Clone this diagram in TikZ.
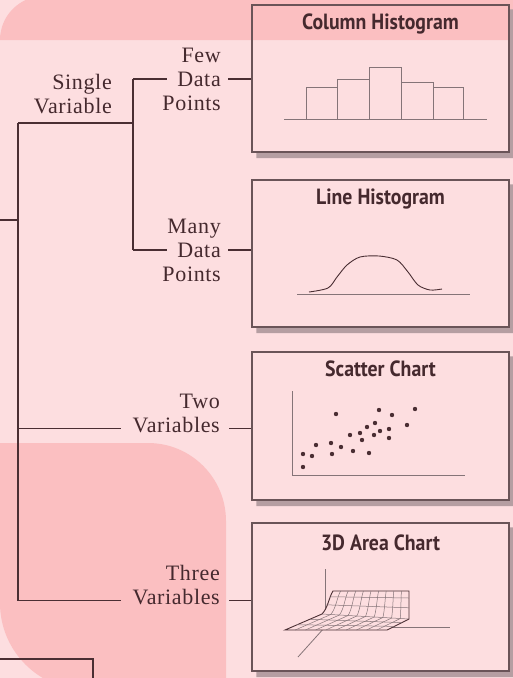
\documentclass[tikz,border=0pt]{standalone}
\usepackage{fontspec}
\usepackage{tikz}
\usetikzlibrary{positioning,calc}
\newfontfamily\titlefont[FakeStretch=0.9]{PT Sans}
\newfontfamily\labelfont[LetterSpace=3]{Liberation Serif}
\definecolor{fbg}{HTML}{FDDEE0}
\definecolor{fband}{HTML}{FBBFC1}
\definecolor{fink}{HTML}{45292E}
\definecolor{fline}{HTML}{4A2E33}
\definecolor{fbox}{HTML}{6A5458}
\definecolor{fshade}{HTML}{B59EA2}
\definecolor{fchart}{HTML}{857478}

\begin{document}
\begin{tikzpicture}[x=1pt, y=-1pt,
  lbl/.style={font=\labelfont\fontsize{22pt}{24pt}\selectfont, text=fink, align=right, inner sep=0pt},
  chartbox/.style={draw=fbox, line width=1.2pt, minimum width=257pt, minimum height=147pt, inner sep=0pt},
  boxtitle/.style={font=\titlefont\bfseries\fontsize{22pt}{24pt}\selectfont, text=fink, inner sep=0pt},
  wire/.style={fline, line width=1.3pt},
  thinchart/.style={fchart, line width=0.8pt}]
\useasboundingbox (0,0) rectangle (513,678);
% =================== background ===================
\fill[fbg] (0,0) rectangle (513,678);
\fill[fband] (0,40) arc (180:270:44) -- (520,-4) -- (520,40) -- cycle;
\fill[fband] (0,443) -- (148,443) arc (270:360:78) -- (226,690) -- (87,690) arc (90:180:87) -- cycle;
% =================== chart boxes ===================
\node[chartbox] (colhist) at (380.5,78.5) {};
\node[chartbox] (linehist) at (380.5,253.5) {};
\node[chartbox, minimum height=148pt] (scatter) at (380.5,426) {};
\node[chartbox, minimum height=148pt] (area3d) at (380.5,597) {};
\foreach \b in {colhist,linehist,scatter,area3d}
  \fill[fshade] ([xshift=0.6pt,yshift=-5pt]\b.north east) -- ([xshift=5.5pt,yshift=-5pt]\b.north east)
    -- ([xshift=5.5pt,yshift=-5.5pt]\b.south east) -- ([xshift=5pt,yshift=-5.5pt]\b.south west)
    -- ([xshift=5pt,yshift=-0.6pt]\b.south west) -- ([xshift=0.6pt,yshift=-0.6pt]\b.south east) -- cycle;
\node[boxtitle, below=9pt of colhist.north] (colhistT) {Column Histogram};
\node[boxtitle, below=9pt of linehist.north] (linehistT) {Line Histogram};
\node[boxtitle, below=9pt of scatter.north] (scatterT) {Scatter Chart};
\node[boxtitle, below=12pt of area3d.north] (area3dT) {3D Area Chart};
% column histogram
\draw[thinchart] (284,119) -- (487,119);
\foreach \xa/\xb/\h in {306/337/87, 337/369/79, 369/401/67, 401/433/82, 433/463/87}
  \draw[thinchart] (\xa,119) |- (\xb,\h) -- (\xb,119);
% line histogram
\draw[thinchart] (297,294) -- (470,294);
\draw[fline, line width=0.9pt] plot[smooth] coordinates {(309,292) (328,288) (337,277) (347,265)
  (360,257) (379,256) (397,260) (408,272) (418,285) (430,290) (442,289)};
% scatter chart
\draw[thinchart] (292,391) |- (465,475);
\foreach \p in {(336,414),(379,410),(392,415),(415,409),(407,425),(375,423),(367,427),(380,431),
  (389,429),(350,435),(360,433),(374,435),(362,440),(389,438),(316,445),(331,443),(341,447),
  (353,451),(369,453),(332,454),(303,454),(312,456),(303,467)}
  \fill[fline] \p circle (2.2pt);
% 3D area chart
\coordinate (L0) at (285,630); \coordinate (R0) at (387,630);
\coordinate (L1) at (322,614); \coordinate (R1) at (409,619);
\coordinate (L2) at (333,591); \coordinate (R2) at (409,591);
\coordinate (C1) at (328,608); \coordinate (D1) at (409,611);
\coordinate (C2) at (329,597); \coordinate (D2) at (409,599);
\draw[thinchart] (325,569) -- (325,627) -- (450,627);
\draw[thinchart] (325,627) -- (298,657);
\filldraw[fill=fbg, draw=fline, line width=0.9pt] (L0) -- (R0) -- (R1) -- (R2) -- (L2)
  .. controls (C2) and (C1) .. (L1) -- cycle;
\foreach \u in {0.1,0.2,...,0.9}
  \draw[thinchart, line width=0.5pt] ($(L0)!\u!(R0)$) -- ($(L1)!\u!(R1)$)
    .. controls ($(C1)!\u!(D1)$) and ($(C2)!\u!(D2)$) .. ($(L2)!\u!(R2)$);
\foreach \s in {0.33,0.67}
  \draw[thinchart, line width=0.5pt] ($(L0)!\s!(L1)$) -- ($(R0)!\s!(R1)$);
\foreach \s in {0,0.4,0.75}
  \draw[thinchart, line width=0.5pt] ($(L1)!\s!(L2)$) -- ($(R1)!\s!(R2)$);
% =================== labels ===================
\node[lbl, anchor=south east] (single) at (112,114) {Single\\Variable};
\node[lbl, anchor=east] (few) at (221,79) {Few\\Data\\Points};
\node[lbl, anchor=east] (many) at (221,250) {Many\\Data\\Points};
\node[lbl, anchor=south east] (two) at (220,433) {Two\\Variables};
\node[lbl, anchor=south east] (three) at (220,605) {Three\\Variables};
% =================== connectors ===================
\coordinate (stub) at (0,220);
\coordinate (top) at (18,123);
\coordinate (fork) at (133,123);
\coordinate (twoW) at ([xshift=-11pt,yshift=4.5pt]two.south west);
\coordinate (twoE) at ([xshift=9pt,yshift=4.5pt]two.south east);
\coordinate (threeW) at ([xshift=-11pt,yshift=4.5pt]three.south west);
\coordinate (threeE) at ([xshift=9pt,yshift=4.5pt]three.south east);
\coordinate (cut) at (0,659);
\coordinate (cutend) at (93,682);
\draw[wire] (stub) -- (stub -| top);
\draw[wire] (top) -- (top |- threeW);
\draw[wire] (top) -- (fork);
\draw[wire] (fork |- few) -- (fork |- many);
\draw[wire] (fork |- few) -- ([xshift=5pt]few.west);
\draw[wire] (fork |- many) -- ([xshift=5pt]many.west);
\draw[wire] ([xshift=7pt]few.east) -- (colhist.west |- few.east);
\draw[wire] ([xshift=7pt]many.east) -- (linehist.west |- many.east);
\draw[wire] (top |- twoW) -- (twoW);
\draw[wire] (twoE) -- (twoE -| scatter.west);
\draw[wire] (top |- threeW) -- (threeW);
\draw[wire] (threeE) -- (threeE -| area3d.west);
\draw[wire, line width=2.4pt] (cut) -| (cutend);
\end{tikzpicture}
\end{document}
